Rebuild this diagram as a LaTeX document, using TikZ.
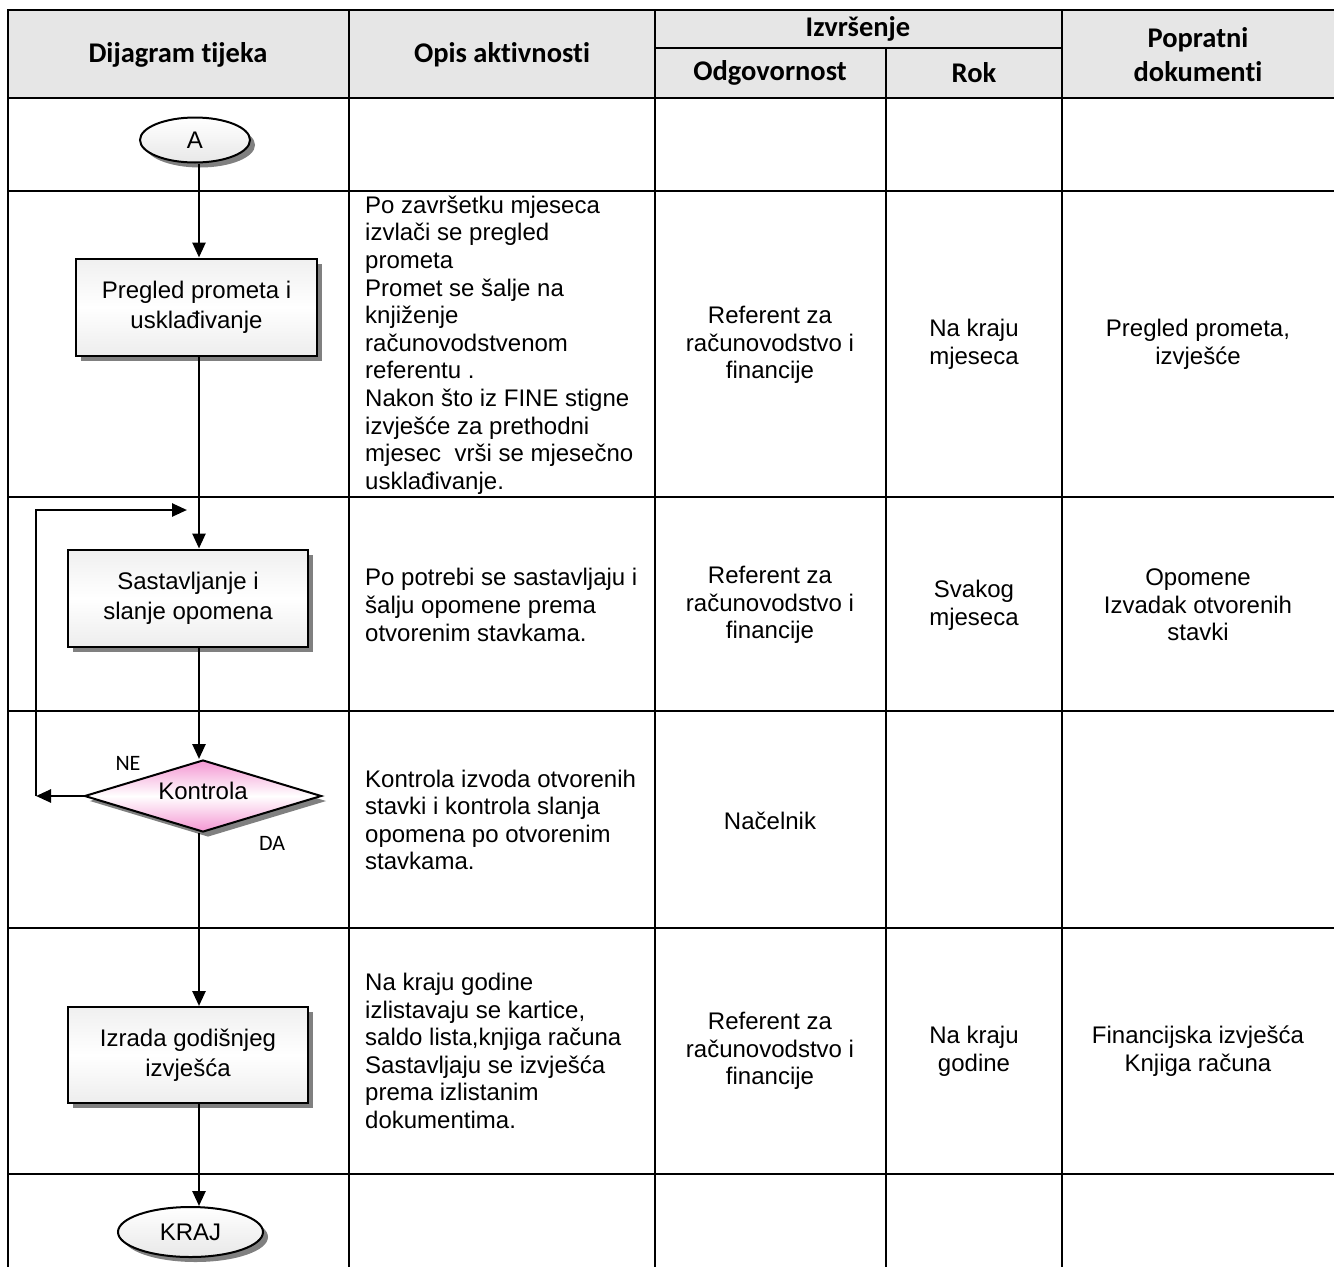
\documentclass[tikz,border=0pt]{standalone}
\usepackage{fontspec}
\setmainfont{Liberation Sans}
\newfontfamily\hdr[Ligatures={NoCommon}]{Carlito}
\usetikzlibrary{shapes.geometric,arrows.meta,shadows}
\definecolor{hdrfill}{RGB}{230,230,230}
\definecolor{pinkc}{RGB}{244,150,210}
\definecolor{shadowc}{RGB}{128,128,128}
\tikzset{
  grid/.style={line width=2.6pt,line cap=rect},
  hdrtext/.style={font=\hdr\bfseries\fontsize{28.5}{34}\selectfont,align=center,inner sep=0},
  celltext/.style={font=\fontsize{24}{27.6}\selectfont,align=center,inner sep=0},
  opistext/.style={font=\fontsize{24}{27.6}\selectfont,align=left,anchor=west,inner sep=0},
  procbox/.style={draw,line width=2pt,rectangle,minimum width=240pt,minimum height=97pt,inner sep=0,
    align=center,font=\fontsize{24}{30}\selectfont,
    top color=gray!12,bottom color=gray!14,middle color=white,
    drop shadow={shadow xshift=5pt,shadow yshift=-5pt,fill=shadowc,opacity=1}},
  termnode/.style={draw,line width=2pt,ellipse,inner sep=0,font=\fontsize{24}{28}\selectfont,
    top color=white,bottom color=gray!18,
    drop shadow={shadow xshift=5pt,shadow yshift=-5pt,fill=shadowc,opacity=1}},
  decnode/.style={draw,line width=2pt,diamond,aspect=3.3,inner sep=0,minimum width=237pt,minimum height=72pt,
    font=\fontsize{24}{28}\selectfont,
    top color=pinkc,bottom color=pinkc,middle color=white,
    drop shadow={shadow xshift=5pt,shadow yshift=-5pt,fill=shadowc,opacity=1}},
  flow/.style={line width=2.6pt,-{Triangle[length=15pt,width=13pt]}},
  lbl/.style={font=\hdr\fontsize{22}{26}\selectfont,inner sep=0}
}
\begin{document}
\begin{tikzpicture}[x=1pt,y=-1pt]
\useasboundingbox (0,0) rectangle (1334,1267);
% header fill
\fill[hdrfill] (8,10) rectangle (1334,98);
% grid
\draw[grid] (8,1267) -- (8,10) -- (1334,10);
\foreach \yy in {98,191,497,711,928,1174} {\draw[grid] (8,\yy) -- (1334,\yy);}
\foreach \xx in {349,655,1062} {\draw[grid] (\xx,10) -- (\xx,1267);}
\draw[grid] (886,48) -- (886,1267);
\draw[grid] (655,48) -- (1062,48);
% headers
\node[hdrtext] (h1) at (178,55) {Dijagram tijeka};
\node[hdrtext] (h2) at (502,55) {Opis aktivnosti};
\node[hdrtext] (h3) at (858,29) {Izvršenje};
\node[hdrtext] (h4) at (770,73) {Odgovornost};
\node[hdrtext] (h5) at (974,73) {Rok};
\node[hdrtext] (h6) at (1198,55) {Popratni\\dokumenti};
% opis column
\node[opistext] (o2) at (365,345) {Po završetku mjeseca\\izvlači se pregled\\prometa\\Promet se šalje na\\knjiženje\\računovodstvenom\\referentu .\\Nakon što iz FINE stigne\\izvješće za prethodni\\mjesec\ \ vrši se mjesečno\\usklađivanje.};
\node[opistext] (o3) at (365,605) {Po potrebi se sastavljaju i\\šalju opomene prema\\otvorenim stavkama.};
\node[opistext] (o4) at (365,820) {Kontrola izvoda otvorenih\\stavki i kontrola slanja\\opomena po otvorenim\\stavkama.};
\node[opistext] (o5) at (365,1051) {Na kraju godine\\izlistavaju se kartice,\\saldo lista,knjiga računa\\Sastavljaju se izvješća\\prema izlistanim\\dokumentima.};
% odgovornost
\node[celltext] (r2) at (770,345) {Referent za\\računovodstvo i\\financije};
\node[celltext] (r3) at (770,605) {Referent za\\računovodstvo i\\financije};
\node[celltext] (r4) at (770,821) {Načelnik};
\node[celltext] (r5) at (770,1051) {Referent za\\računovodstvo i\\financije};
% rok
\node[celltext] (k2) at (974,344) {Na kraju\\mjeseca};
\node[celltext] (k3) at (974,605) {Svakog\\mjeseca};
\node[celltext] (k5) at (974,1051) {Na kraju\\godine};
% popratni
\node[celltext] (p2) at (1198,344) {Pregled prometa,\\izvješće};
\node[celltext] (p3) at (1198,605) {Opomene\\Izvadak otvorenih\\stavki};
\node[celltext] (p5) at (1198,1051) {Financijska izvješća\\Knjiga računa};
% flowchart
\coordinate (sp) at (199,0);
\node[termnode,minimum width=110pt,minimum height=45pt] (A) at (195,140) {A};
\node[procbox,minimum width=241pt] (preg) at (196.5,307) {Pregled prometa i\\usklađivanje};
\node[procbox] (sast) at (188,598) {Sastavljanje i\\slanje opomena};
\node[decnode] (kon) at (203,796) {};
\node[font=\fontsize{24}{28}\selectfont,inner sep=0] (kont) at (203,791) {Kontrola};
\node[procbox,minimum height=96pt] (izr) at (188,1055) {Izrada godišnjeg\\izvješća};
\node[termnode,minimum width=145pt,minimum height=50pt] (kraj) at (190.5,1232) {KRAJ};
\node[lbl] (ne) at (128,763) {NE};
\node[lbl] (da) at (272,843) {DA};
\coordinate (lp1) at (36,796);
\coordinate (lp2) at (36,510);
\coordinate (lp3) at (187,510);
\draw[flow] (A.south -| sp) -- (preg.north -| sp);
\draw[flow] (preg.south -| sp) -- (sast.north -| sp);
\draw[flow] (sast.south -| sp) -- (kon.north -| sp);
\draw[flow] (kon.south -| sp) -- (izr.north -| sp);
\draw[flow] (izr.south -| sp) -- (kraj.north -| sp);
\draw[flow] (kon.west) -- (lp1);
\draw[flow] (lp1) -- (lp2) -- (lp3);
\end{tikzpicture}
\end{document}
